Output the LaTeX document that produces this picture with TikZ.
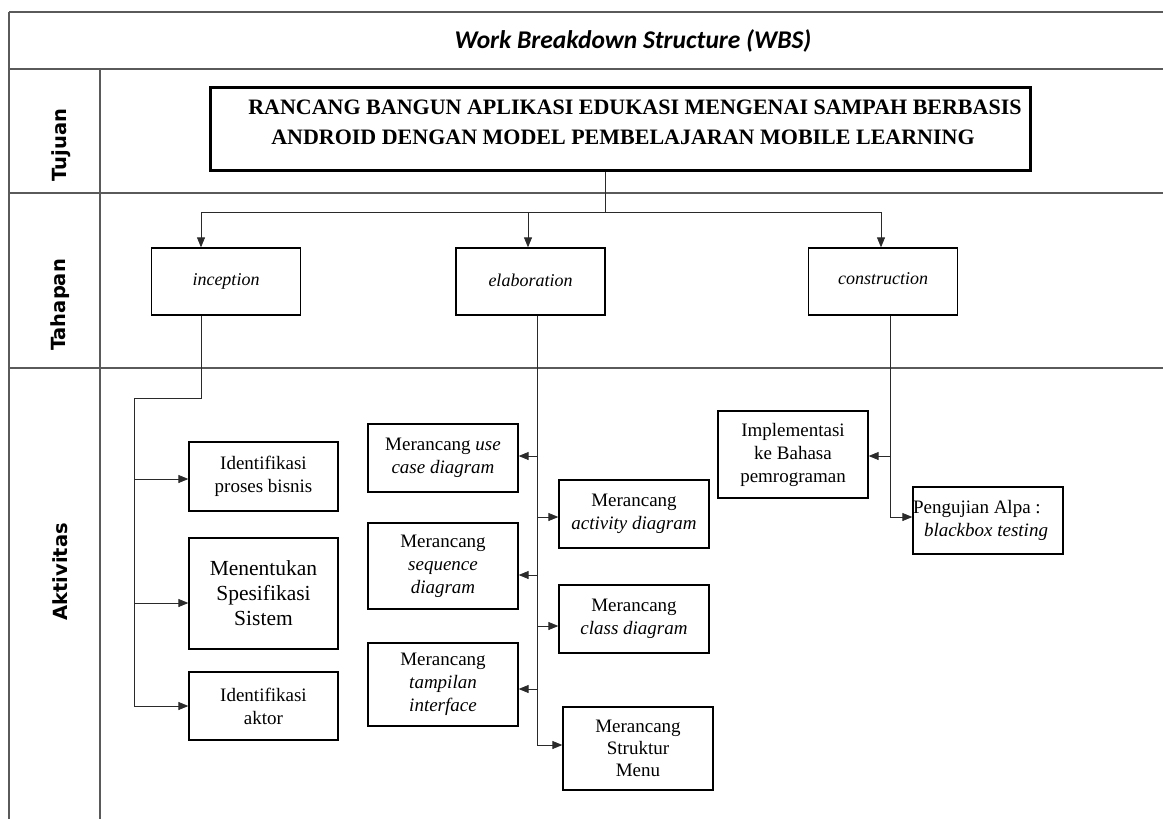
\documentclass[tikz,border=0pt]{standalone}
\usepackage{fontspec}
\setmainfont{Liberation Serif}
\newfontfamily\wbsfont{Carlito}
\newfontfamily\lanefont{DejaVu Sans}
\usepackage{tikz}
\usetikzlibrary{positioning, arrows.meta}
\definecolor{RuleGray}{HTML}{5A5A5A}
\definecolor{LineGray}{HTML}{2A2A2A}

\begin{document}
\begin{tikzpicture}[x=1pt, y=-1pt,
    wbsbox/.style={draw, line width=1.3pt, align=center, inner sep=0pt,
        font=\fontsize{19}{23}\selectfont},
    phasebox/.style={wbsbox, minimum width=149, minimum height=67,
        font=\fontsize{18}{22}\selectfont\itshape},
    lanelabel/.style={rotate=90, font=\fontsize{19.5}{23}\selectfont\lanefont\bfseries},
    link/.style={draw=LineGray, line width=0.9pt},
    arr/.style={link, -{Triangle[length=10pt, width=8pt]}}]
                \useasboundingbox (0,0) rectangle (1163,819);

                % Table frame
                \draw[RuleGray, line width=1.3pt] (9,12) -- (1163,12);
                \draw[RuleGray, line width=1.3pt] (9,69) -- (1163,69);
                \draw[RuleGray, line width=1.3pt] (9,193) -- (1163,193);
                \draw[RuleGray, line width=1.3pt] (9,368) -- (1163,368);
                \draw[RuleGray, line width=1.3pt] (9,12) -- (9,819);
                \draw[RuleGray, line width=1.3pt] (100,69) -- (100,819);

                % Header and lane labels
                \node[font=\fontsize{25.5}{30}\selectfont\wbsfont\bfseries\itshape] (title) at (633,41) {Work Breakdown Structure (WBS)};
                \node[lanelabel] (tujuan) at (61,145) {Tujuan};
                \node[lanelabel] (tahapan) at (60,305) {Tahapan};
                \node[lanelabel] (aktivitas) at (60,572) {Aktivitas};

                % Goal
                \node[wbsbox, line width=3pt, minimum width=820, minimum height=83,
                    font=\fontsize{22}{30}\selectfont\bfseries] (goal) at (620,128.5)
                    {\hspace*{30pt}RANCANG BANGUN APLIKASI EDUKASI MENGENAI SAMPAH BERBASIS\\\hspace*{6pt}ANDROID DENGAN MODEL PEMBELAJARAN MOBILE LEARNING\\[-18pt]\mbox{}};

                % Phases
                \node[phasebox] (inc) at (226,281.5) {\raisebox{3pt}{inception}};
                \node[phasebox] (elab) at (530.5,281.5) {\raisebox{3pt}{elaboration}};
                \node[phasebox] (cons) at (883,281.5) {\raisebox{6pt}{construction}};

                \coordinate (j0) at (605,212);
                \coordinate (ja) at (201,212);
                \coordinate (jb) at (528,212);
                \coordinate (jc) at (881,212);
                \draw[link] (goal.south -| j0) -- (j0);
                \draw[link] (ja) -- (jc);
                \draw[arr] (ja) -- (ja |- inc.north);
                \draw[arr] (jb) -- (jb |- elab.north);
                \draw[arr] (jc) -- (jc |- cons.north);

                % Activities: inception
                \node[wbsbox, minimum width=149, minimum height=69] (bis) at (263.5,476.5) {Identifikasi\\proses bisnis};
                \node[wbsbox, minimum width=149, minimum height=111,
                    font=\fontsize{21.5}{25}\selectfont] (spek) at (263.5,593.5) {Menentukan\\Spesifikasi\\Sistem};
                \node[wbsbox, minimum width=149, minimum height=68] (akt) at (263.5,706) {Identifikasi\\aktor};

                \coordinate (ia) at (201,398);
                \coordinate (ib) at (134,398);
                \draw[link] (inc.south -| ia) -- (ia) -- (ib) -- (ib |- akt.west);
                \draw[arr] (ib |- bis.west) ++(0,2.5) -- ([yshift=-2.5pt]bis.west);
                \draw[arr] (ib |- spek.west) ++(0,9.5) -- ([yshift=-9.5pt]spek.west);
                \draw[arr] (ib |- akt.west) -- (akt.west);

                % Activities: elaboration
                \node[wbsbox, minimum width=150, minimum height=68] (uc) at (443,458) {Merancang \textit{use}\\\textit{case diagram}};
                \node[wbsbox, minimum width=150, minimum height=86] (seq) at (443,566) {Merancang\\\textit{sequence}\\\textit{diagram}};
                \node[wbsbox, minimum width=150, minimum height=83] (tamp) at (443,684.5) {Merancang\\\textit{tampilan}\\\textit{interface}};
                \node[wbsbox, minimum width=150, minimum height=68] (act) at (634,514) {Merancang\\\textit{activity diagram}};
                \node[wbsbox, minimum width=150, minimum height=68] (cls) at (634,619) {Merancang\\\textit{class diagram}};
                \node[wbsbox, minimum width=150, minimum height=83,
                    font=\fontsize{19}{22}\selectfont] (menu) at (638,748.5) {Merancang\\Struktur\\Menu};

                \coordinate (e0) at (537,745);
                \draw[link] (elab.south -| e0) -- (e0);
                \draw[arr] (e0 |- uc.east) ++(0,-2) -- ([yshift=2pt]uc.east);
                \draw[arr] (e0 |- seq.east) ++(0,9) -- ([yshift=-9pt]seq.east);
                \draw[arr] (e0 |- tamp.east) ++(0,4.5) -- ([yshift=-4.5pt]tamp.east);
                \draw[arr] (e0 |- act.west) ++(0,3) -- ([yshift=-3pt]act.west);
                \draw[arr] (e0 |- cls.west) ++(0,7) -- ([yshift=-7pt]cls.west);
                \draw[arr] (e0) -- (e0 -| menu.west);

                % Activities: construction
                \node[wbsbox, minimum width=150, minimum height=87] (imp) at (793,454.5) {Implementasi\\ke Bahasa\\pemrograman};
                \node[wbsbox, minimum width=150, minimum height=67, align=left] (uji) at (988,520.5)
                    {Pengujian Alpa :\\\hspace*{11pt}\textit{blackbox testing}\hspace*{15pt}};

                \coordinate (c0) at (890,517);
                \draw[link] (cons.south -| c0) -- (c0);
                \draw[arr] (c0 |- imp.east) ++(0,1.5) -- ([yshift=-1.5pt]imp.east);
                \draw[arr] (c0) -- (c0 -| uji.west);
            \end{tikzpicture}
\end{document}
